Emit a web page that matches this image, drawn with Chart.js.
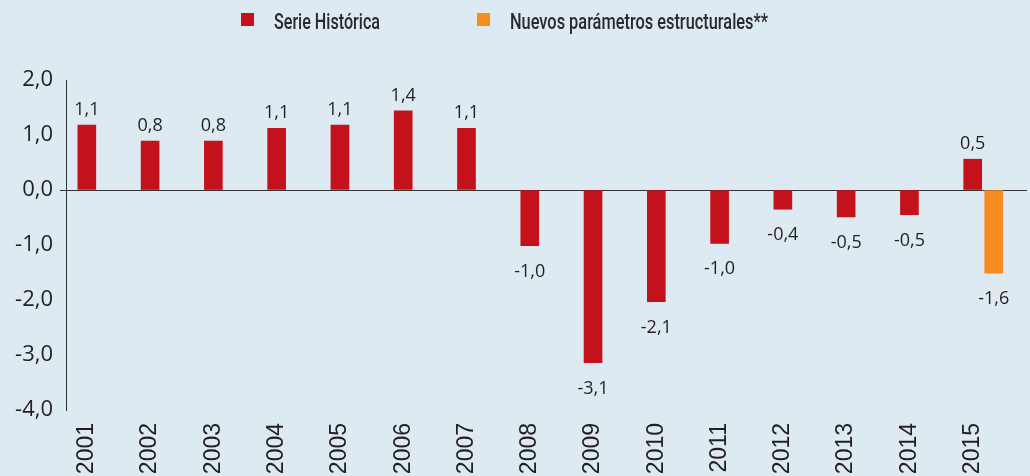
<!DOCTYPE html>
<html><head><meta charset="utf-8">
<script src="https://cdn.jsdelivr.net/npm/chart.js@4.4.1/dist/chart.umd.min.js"></script>
<style>
html,body{margin:0;padding:0;background:#ddeaf2;}
#wrap{position:relative;width:1030px;height:476px;overflow:hidden;background:#ddeaf2;}
canvas{position:absolute;left:0;top:0;}
.lg-box{position:absolute;width:13px;height:13px;top:13px;}
.lg-txt{position:absolute;top:11px;font-family:Roboto,'Liberation Sans',sans-serif;font-weight:500;font-size:22px;line-height:22px;color:#2a2a2a;transform-origin:0 0;white-space:nowrap;}
</style></head>
<body><div id="wrap"><canvas id="c" width="1030" height="476"></canvas><div id="legend"></div></div>
<script>
// ---- data ----
const years = [2001,2002,2003,2004,2005,2006,2007,2008,2009,2010,2011,2012,2013,2014,2015];
const serieName = 'Serie Histórica';
const nuevosName = 'Nuevos parámetros estructurales**';
const serieValues = [1.18,0.89,0.89,1.12,1.18,1.44,1.12,-1.01,-3.14,-2.03,-0.97,-0.35,-0.49,-0.45,0.56];
const serieLabels = [1.1,0.8,0.8,1.1,1.1,1.4,1.1,-1.0,-3.1,-2.1,-1.0,-0.4,-0.5,-0.5,0.5];
const nuevosValues = [null,null,null,null,null,null,null,null,null,null,null,null,null,null,-1.51];
const nuevosLabels = [null,null,null,null,null,null,null,null,null,null,null,null,null,null,-1.6];
const yTicks = [-4,-3,-2,-1,0,1,2];

// ---- style / layout ----
const RED = '#c4121c', ORANGE = '#f68b1f', TXT = '#231f20';
const X_MIN = 2000.671, X_MAX = 2015.858, SHIFT = 0.332;
const fmt = v => v.toFixed(1).replace('.', ',');
const labelSets = [serieLabels, nuevosLabels];

// legend (HTML text)
const legendItems = [{name: serieName, color: RED, box: 241, text: 274, width: 106},
                     {name: nuevosName, color: ORANGE, box: 477, text: 510, width: 258}];
const lg = document.getElementById('legend');
legendItems.forEach(it => {
  const b = document.createElement('div'); b.className = 'lg-box';
  b.style.left = it.box + 'px'; b.style.background = it.color; lg.appendChild(b);
  const t = document.createElement('div'); t.className = 'lg-txt';
  t.style.left = it.text + 'px'; t.textContent = it.name; lg.appendChild(t);
  const w = t.getBoundingClientRect().width;
  t.style.transform = 'scaleX(' + (it.width / w) + ')';
});

const valueLabels = {
  id: 'valueLabels',
  afterDatasetsDraw(chart, args, opts) {
    const ctx = chart.ctx;
    ctx.save();
    ctx.font = opts.font; ctx.fillStyle = opts.color;
    ctx.textAlign = 'center'; ctx.textBaseline = 'alphabetic';
    chart.data.datasets.forEach((ds, i) => {
      const meta = chart.getDatasetMeta(i);
      meta.data.forEach((el, j) => {
        const v = ds.data[j].y, lab = labelSets[i][j];
        if (v == null || lab == null) return;
        const y = v >= 0 ? el.y - opts.above : el.y + opts.below;
        ctx.fillText(fmt(lab), el.x, y);
      });
    });
    ctx.restore();
  }
};

const zeroColor = c => (c.tick && c.tick.value === 0) ? '#333333' : 'rgba(0,0,0,0)';

new Chart(document.getElementById('c'), {
  type: 'bar',
  data: {
    datasets: [
      {label: serieName, data: years.map((x, i) => ({x, y: serieValues[i]})), backgroundColor: RED, xAxisID: 'x', barThickness: 18, grouped: false},
      {label: nuevosName, data: years.map((x, i) => ({x, y: nuevosValues[i]})), backgroundColor: ORANGE, xAxisID: 'x2', barThickness: 18, grouped: false}
    ]
  },
  options: {
    responsive: false, animation: false, devicePixelRatio: 1,
    layout: {padding: {top: 80, right: 3, left: 0, bottom: 0}},
    plugins: {
      legend: {display: false}, tooltip: {enabled: false},
      valueLabels: {font: '18px "Open Sans"', color: TXT, above: 10, below: 31}
    },
    scales: {
      x: {
        type: 'linear', position: 'bottom', min: X_MIN, max: X_MAX, offset: false,
        grid: {display: false}, border: {display: false},
        afterBuildTicks: s => { s.ticks = years.map(v => ({value: v})); },
        afterFit: s => { s.height = 66; },
        ticks: {minRotation: 90, maxRotation: 90, autoSkip: false, padding: 5, color: TXT,
                font: {family: "'Liberation Sans', sans-serif", size: 23},
                callback: v => String(v)}
      },
      x2: {type: 'linear', display: false, offset: false, min: X_MIN - SHIFT, max: X_MAX - SHIFT},
      y: {
        min: -4, max: 2,
        afterBuildTicks: s => { s.ticks = yTicks.map(v => ({value: v})); },
        afterFit: s => { s.width = 66; },
        ticks: {padding: 7, color: TXT, font: {family: "'Open Sans'", size: 22}, callback: v => fmt(v)},
        grid: {color: zeroColor, tickColor: zeroColor, tickLength: 6, lineWidth: 1},
        border: {display: true, color: '#333333', width: 1}
      }
    }
  },
  plugins: [valueLabels]
});
</script>
</body></html>
